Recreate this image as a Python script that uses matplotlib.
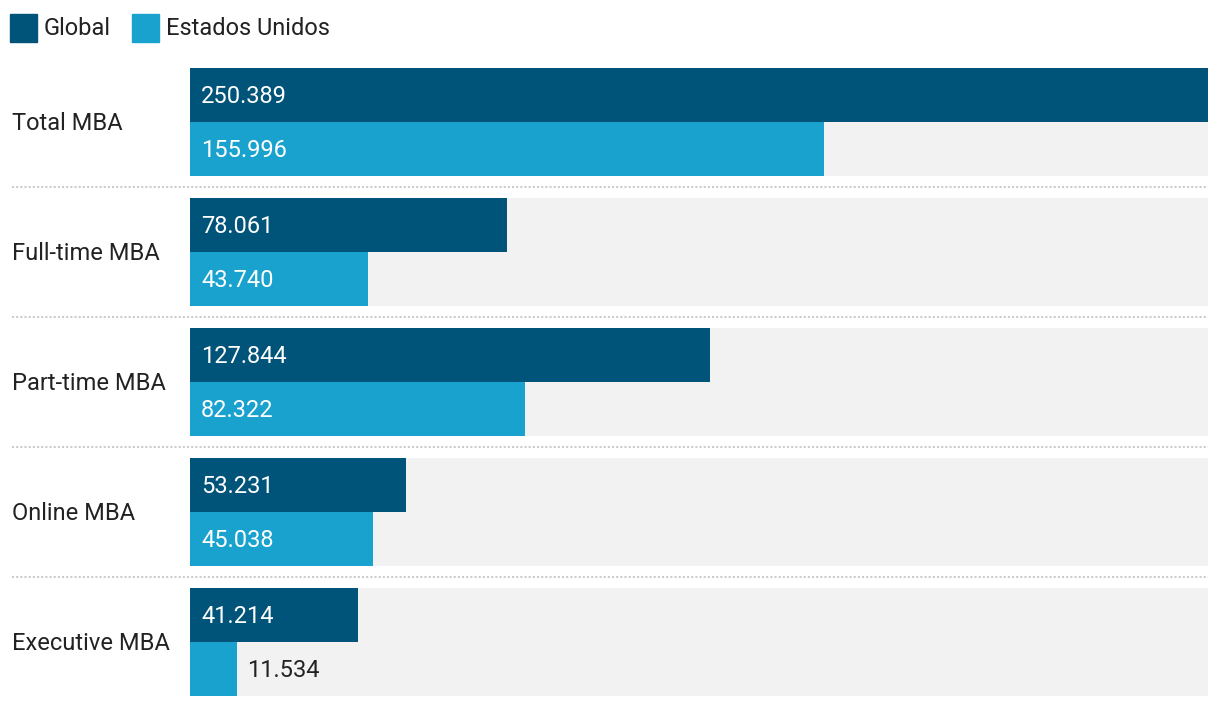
import matplotlib.pyplot as plt
from matplotlib.patches import Rectangle

plt.rcParams['font.family'] = ['Roboto', 'DejaVu Sans']

# datos
categorias = ['Total MBA', 'Full-time MBA', 'Part-time MBA', 'Online MBA', 'Executive MBA']
global_vals = [250.389, 78.061, 127.844, 53.231, 41.214]
eeuu_vals = [155.996, 43.740, 82.322, 45.038, 11.534]
series = ['Global', 'Estados Unidos']

c_global = '#015479'
c_eeuu = '#1aa2cf'
c_fondo = '#f2f2f2'
c_texto = '#222222'

W, H = 1220, 708
fs = 17
dy = 1.5  # pequeño ajuste vertical del texto
fig = plt.figure(figsize=(W / 100, H / 100), dpi=100)
ax = fig.add_axes([190 / W, 0, 1018 / W, 1])
vmax = max(global_vals)
ax.set_xlim(0, vmax)
ax.set_ylim(H, 0)
ax.axis('off')

top0, paso, alto = 68, 130, 54

def fmt(v):
    return f'{v:.3f}'

for i, cat in enumerate(categorias):
    top = top0 + paso * i
    ax.barh(top + alto, vmax, height=2 * alto, color=c_fondo, zorder=1)
    for j, (vals, col) in enumerate([(global_vals, c_global), (eeuu_vals, c_eeuu)]):
        y = top + alto * j + alto / 2
        v = vals[i]
        ax.barh(y, v, height=alto, color=col, zorder=2)
        px = v / vmax * 1018
        if px > 90:
            ax.text(11 / 1018 * vmax, y + dy, fmt(v), color='white', fontsize=fs,
                    va='center', ha='left', zorder=3)
        else:
            ax.text(v + 10 / 1018 * vmax, y + dy, fmt(v), color=c_texto, fontsize=fs,
                    va='center', ha='left', zorder=3)
    fig.text(12 / W, 1 - (top + alto + dy) / H, cat, color=c_texto, fontsize=fs,
             va='center', ha='left')
    if i < len(categorias) - 1:
        ys = 1 - (top + 2 * alto + 11) / H
        fig.add_artist(plt.Line2D([12 / W, 1208 / W], [ys, ys], color='#cccccc',
                                  lw=1.5, linestyle=(0, (1, 1))))

# leyenda
lx = [10, 132]
for k, (nombre, col) in enumerate(zip(series, [c_global, c_eeuu])):
    fig.add_artist(Rectangle((lx[k] / W, 1 - 42 / H), 27 / W, 28 / H,
                             transform=fig.transFigure, color=col))
    fig.text((lx[k] + 34) / W, 1 - (27 + dy) / H, nombre, color=c_texto, fontsize=fs,
             va='center', ha='left')

fig.savefig('out.png', dpi=100)
